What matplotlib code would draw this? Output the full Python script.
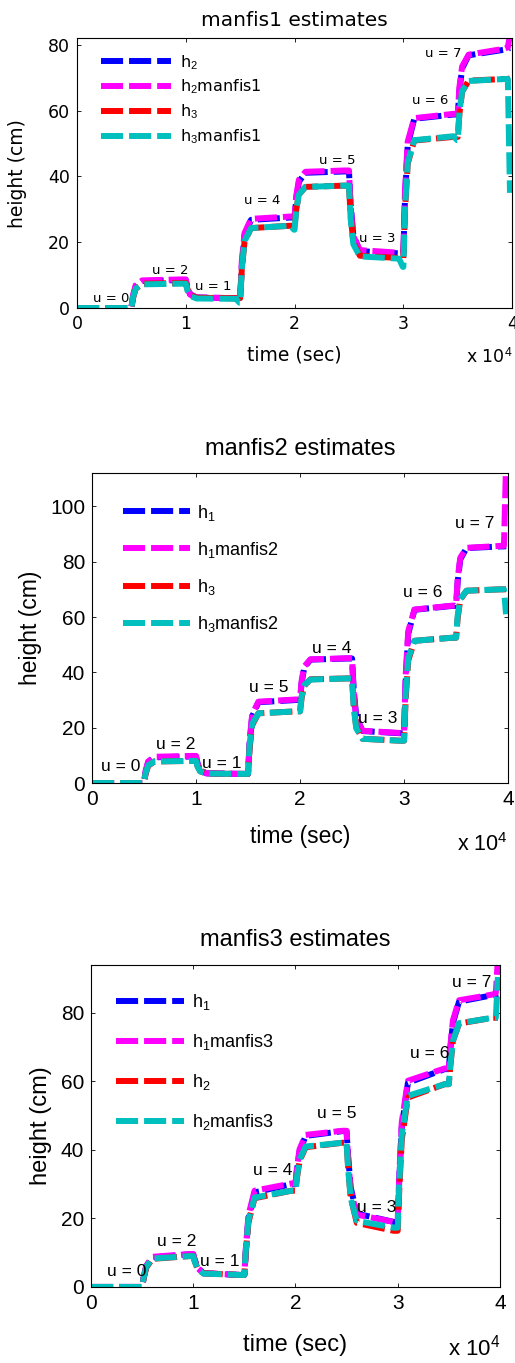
import matplotlib
matplotlib.use("Agg")
import matplotlib.pyplot as plt

plt.rcParams['mathtext.fontset'] = 'custom'
plt.rcParams['mathtext.rm'] = 'Liberation Sans'
plt.rcParams['mathtext.it'] = 'Liberation Sans:italic'
plt.rcParams['mathtext.bf'] = 'Liberation Sans:bold'

# time grid (sec), shared by all three panels
time_s = [
    0, 150, 400, 1000, 4600, 4950,
    5000, 5150, 5400, 6000, 9600, 9950,
    10000, 10150, 10400, 11000, 14600, 14950,
    15000, 15150, 15400, 16000, 19600, 19950,
    20000, 20150, 20400, 21000, 24600, 24950,
    25000, 25150, 25400, 26000, 29600, 29950,
    30000, 30150, 30400, 31000, 34600, 34950,
    35000, 35150, 35400, 36000, 39300, 39600,
    39800,
]

# ---- manfis1 panel: h2, h2 manfis1, h3, h3 manfis1
p1_h2 = [
    0, 0, 0, 0, 0, 0,
    0, 3.4, 6.6, 8.2, 8.5, 8.5,
    8.5, 6.3, 4.2, 3.2, 3.0, 3.0,
    3.0, 12.8, 22.1, 26.8, 27.5, 27.5,
    27.5, 33.1, 38.4, 41.1, 41.5, 41.5,
    41.5, 31.5, 22.1, 17.3, 16.6, 16.6,
    16.6, 33.5, 49.5, 57.5, 58.8, 58.8,
    58.8, 66.0, 72.8, 76.8, 78.5, 78.8,
    79.0,
]
p1_h2_manfis = [
    0, 0, 0, 0, 0, 0,
    0, 3.9, 7.0, 8.4, 8.7, 8.7,
    8.7, 6.1, 4.1, 3.2, 3.0, 3.0,
    3.0, 14.2, 22.8, 27.1, 27.8, 27.8,
    27.8, 34.1, 39.0, 41.4, 41.8, 41.8,
    41.8, 30.6, 21.8, 17.6, 16.8, 16.8,
    16.8, 35.8, 50.6, 57.7, 59.0, 59.0,
    59.0, 67.1, 73.4, 77.0, 78.8, 79.2,
    83.0,
]
p1_h3 = [
    0, 0, 0, 0, 0, 0,
    0, 3.0, 5.9, 7.4, 7.6, 7.6,
    7.6, 5.8, 4.0, 3.1, 3.0, 3.0,
    3.0, 11.8, 20.2, 24.3, 25.0, 25.0,
    25.0, 29.9, 34.5, 36.8, 37.2, 37.2,
    37.2, 28.4, 20.0, 15.9, 15.2, 15.2,
    15.2, 29.9, 43.9, 50.9, 52.0, 52.0,
    52.0, 59.0, 65.7, 69.1, 69.6, 69.6,
    69.8,
]
p1_h3_manfis = [
    0, 0, 0, 0, 0, 0,
    0, 3.3, 5.9, 7.2, 7.4, 7.4,
    7.4, 5.3, 3.7, 2.9, 2.8, 1.6,
    1.6, 12.1, 20.3, 24.3, 25.0, 23.8,
    23.8, 29.8, 34.5, 36.8, 37.2, 37.2,
    37.2, 27.2, 19.4, 15.7, 15.0, 12.5,
    12.5, 30.4, 44.3, 51.0, 52.2, 51.0,
    51.0, 59.4, 65.9, 69.0, 69.6, 69.6,
    35.0,
]

# ---- manfis2 panel: h1, h1 manfis2, h3, h3 manfis2
p2_h1 = [
    0, 0, 0, 0, 0, 0,
    0, 3.8, 7.5, 9.3, 9.6, 9.6,
    9.6, 7.1, 4.7, 3.5, 3.3, 3.3,
    3.3, 14.0, 24.1, 29.2, 30.0, 30.0,
    30.0, 36.0, 41.7, 44.6, 45.0, 45.0,
    45.0, 34.2, 23.9, 18.8, 18.0, 18.0,
    18.0, 36.4, 53.9, 62.6, 64.0, 64.0,
    64.0, 72.6, 80.8, 84.9, 85.5, 85.5,
    85.6,
]
p2_h1_manfis = [
    0, 0, 0, 0, 0, 0,
    0, 4.4, 7.8, 9.5, 9.8, 9.8,
    9.8, 6.9, 4.6, 3.5, 3.3, 3.3,
    3.3, 15.4, 24.8, 29.4, 30.2, 30.2,
    30.2, 36.9, 42.1, 44.7, 45.1, 45.1,
    45.1, 33.0, 23.5, 18.9, 18.1, 18.1,
    18.1, 38.8, 54.9, 62.7, 64.1, 64.1,
    64.1, 73.8, 81.4, 85.0, 85.7, 85.7,
    115.0,
]
p2_h3 = [
    0, 0, 0, 0, 0, 0,
    0, 3.2, 6.2, 7.8, 8.0, 8.0,
    8.0, 6.1, 4.3, 3.4, 3.3, 3.3,
    3.3, 12.3, 20.9, 25.2, 25.9, 25.9,
    25.9, 30.7, 35.2, 37.5, 37.8, 37.8,
    37.8, 28.8, 20.2, 16.0, 15.3, 15.3,
    15.3, 30.2, 44.3, 51.4, 52.5, 52.5,
    52.5, 59.5, 66.2, 69.5, 70.0, 70.0,
    70.0,
]
p2_h3_manfis = [
    0, 0, 0, 0, 0, 0,
    0, 3.6, 6.4, 7.8, 8.0, 8.0,
    8.0, 5.9, 4.2, 3.4, 3.3, 3.3,
    3.3, 13.5, 21.4, 25.2, 25.9, 25.9,
    25.9, 31.3, 35.4, 37.4, 37.8, 37.8,
    37.8, 27.7, 19.8, 16.0, 15.3, 15.3,
    15.3, 32.0, 45.1, 51.4, 52.5, 52.5,
    52.5, 60.4, 66.5, 69.5, 70.0, 70.0,
    61.0,
]

# ---- manfis3 panel: h1, h1 manfis3, h2, h2 manfis3
p3_h1 = [
    0, 0, 0, 0, 0, 0,
    0, 2.6, 5.9, 8.6, 9.5, 9.5,
    9.5, 7.9, 5.8, 4.0, 3.5, 3.5,
    3.5, 10.7, 19.9, 27.6, 30.0, 30.0,
    30.0, 34.2, 39.6, 44.1, 45.5, 45.5,
    45.5, 38.3, 29.1, 21.4, 19.0, 19.0,
    19.0, 31.0, 46.7, 59.6, 63.6, 63.6,
    63.6, 69.4, 77.0, 83.3, 85.2, 85.4,
    85.6,
]
p3_h1_manfis = [
    0, 0, 0, 0, 0, 0,
    0, 2.9, 6.2, 8.8, 9.6, 9.6,
    9.6, 7.8, 5.6, 4.0, 3.5, 3.5,
    3.5, 11.5, 20.9, 28.1, 30.2, 30.2,
    30.2, 34.8, 40.2, 44.4, 45.6, 45.6,
    45.6, 37.6, 28.3, 21.1, 19.0, 19.0,
    19.0, 32.4, 48.1, 60.2, 63.8, 63.8,
    63.8, 70.3, 77.8, 83.7, 85.4, 85.8,
    96.0,
]
p3_h2 = [
    0, 0, 0, 0, 0, 0,
    0, 2.4, 5.6, 8.2, 9.0, 9.0,
    9.0, 7.5, 5.6, 4.0, 3.5, 3.5,
    3.5, 10.1, 18.8, 25.9, 28.1, 28.1,
    28.1, 31.9, 36.8, 40.8, 42.1, 42.1,
    42.1, 35.2, 26.2, 18.7, 16.4, 16.4,
    16.4, 28.0, 43.0, 55.3, 59.2, 59.2,
    59.2, 64.4, 71.8, 76.9, 78.6, 78.6,
    78.6,
]
p3_h2_manfis = [
    0, 0, 0, 0, 0, 0,
    0, 2.7, 5.9, 8.3, 9.0, 9.0,
    9.0, 7.4, 5.4, 3.9, 3.5, 3.5,
    3.5, 10.9, 19.5, 26.1, 28.1, 28.1,
    28.1, 32.3, 37.2, 41.0, 42.1, 42.1,
    42.1, 34.7, 26.0, 19.3, 17.3, 17.3,
    17.3, 29.9, 44.5, 55.8, 59.2, 59.2,
    59.2, 65.0, 71.8, 77.0, 78.6, 78.6,
    90.5,
]

# input level annotations: (text, time, height)
p1_u_labels = [("u = 0", 3100, 3.0), ("u = 2", 8550, 11.3), ("u = 1", 12500, 6.4),
               ("u = 4", 17000, 32.6), ("u = 5", 23900, 44.8), ("u = 3", 27600, 21.0),
               ("u = 6", 32460, 63.0), ("u = 7", 33650, 77.4)]
p2_u_labels = [("u = 0", 2790, 5.8), ("u = 2", 8070, 14.0), ("u = 1", 12500, 7.0),
               ("u = 5", 17040, 34.5), ("u = 4", 23060, 48.6), ("u = 3", 27500, 23.3),
               ("u = 6", 31830, 69.0), ("u = 7", 36830, 93.8)]
p3_u_labels = [("u = 0", 3520, 4.4), ("u = 2", 8410, 13.4), ("u = 1", 12620, 7.3),
               ("u = 4", 17800, 34.1), ("u = 5", 24060, 50.7), ("u = 3", 27970, 23.3),
               ("u = 6", 33150, 68.2), ("u = 7", 37260, 88.9)]

x_ticks = [0, 10000, 20000, 30000, 40000]
x_tick_labels = ['0', '1', '2', '3', '4']

colors = ['#0000FF', '#FF00FF', '#FF0000', '#00BFBF']
LW = 4.3
DASH = (3.7, 1.0)


def draw_panel(ax, series, names, title, u_labels, ymax, yticks, sty):
    for vals, name, c in zip(series, names, colors):
        ax.plot(time_s, vals, color=c, lw=LW, dashes=DASH,
                dash_capstyle='butt', label=name)
    for txt, t, v in u_labels:
        ax.text(t, v, txt, ha='center', va='center',
                fontsize=sty['u'], family=sty['font'])
    ax.set_xlim(0, 40000)
    ax.set_ylim(0, ymax)
    ax.set_xticks(x_ticks)
    ax.set_xticklabels(x_tick_labels)
    ax.set_yticks(yticks)
    ax.tick_params(direction='in', length=3, width=0.6, top=True, right=True,
                   labelsize=sty['tick'], pad=5)
    for lab in ax.get_xticklabels() + ax.get_yticklabels():
        lab.set_family(sty['font'])
    for sp in ax.spines.values():
        sp.set_linewidth(0.8)
    ax.set_title(title, fontsize=sty['title'], family=sty['font'], pad=sty['tpad'])
    ax.set_xlabel('time (sec)', fontsize=sty['label'], family=sty['font'])
    ax.set_ylabel('height (cm)', fontsize=sty['label'], family=sty['font'])
    ax.xaxis.set_label_coords(0.5, sty['xl'])
    ax.yaxis.set_label_coords(sty['yl'], 0.5)
    ax.text(1.0, sty['exp_y'], r'x 10$^{4}$', transform=ax.transAxes,
            ha='right', va='baseline', fontsize=sty['label'] - 1, family=sty['font'])
    ax.legend(loc='upper left', bbox_to_anchor=sty['leg_at'], frameon=False,
              prop={'family': sty['font'], 'size': sty['leg']},
              handlelength=sty['hl'], handletextpad=sty['htp'],
              labelspacing=sty['ls'], borderpad=0, borderaxespad=0)


fig = plt.figure(figsize=(5.15, 13.63), dpi=100)
ax1 = fig.add_axes([0.1495, 0.774, 0.845, 0.198])
ax2 = fig.add_axes([0.1786, 0.4255, 0.808, 0.2274])
ax3 = fig.add_axes([0.1767, 0.0558, 0.794, 0.2362])

draw_panel(ax1, [p1_h2, p1_h2_manfis, p1_h3, p1_h3_manfis],
           [r'h$_2$', r'h$_2$manfis1', r'h$_3$', r'h$_3$manfis1'],
           'manfis1 estimates', p1_u_labels, 82, [0, 20, 40, 60, 80],
           dict(font='DejaVu Sans', u=9.5, tick=12.5, title=14.5, label=13.5, tpad=9,
                xl=-0.137, yl=-0.115, exp_y=-0.2, leg=11.5, leg_at=(0.055, 0.945),
                hl=4.4, htp=0.55, ls=0.38))
draw_panel(ax2, [p2_h1, p2_h1_manfis, p2_h3, p2_h3_manfis],
           [r'h$_1$', r'h$_1$manfis2', r'h$_3$', r'h$_3$manfis2'],
           'manfis2 estimates', p2_u_labels, 112, [0, 20, 40, 60, 80, 100],
           dict(font='Liberation Sans', u=12.5, tick=15, title=17, label=16.5, tpad=13,
                xl=-0.135, yl=-0.12, exp_y=-0.22, leg=13, leg_at=(0.075, 0.905),
                hl=3.7, htp=0.4, ls=0.95))
draw_panel(ax3, [p3_h1, p3_h1_manfis, p3_h2, p3_h2_manfis],
           [r'h$_1$', r'h$_1$manfis3', r'h$_2$', r'h$_2$manfis3'],
           'manfis3 estimates', p3_u_labels, 94, [0, 20, 40, 60, 80],
           dict(font='Liberation Sans', u=12.5, tick=15, title=17, label=17, tpad=14,
                xl=-0.145, yl=-0.095, exp_y=-0.213, leg=13, leg_at=(0.06, 0.915),
                hl=3.8, htp=0.45, ls=1.1))

fig.savefig('out.png', dpi=100)
